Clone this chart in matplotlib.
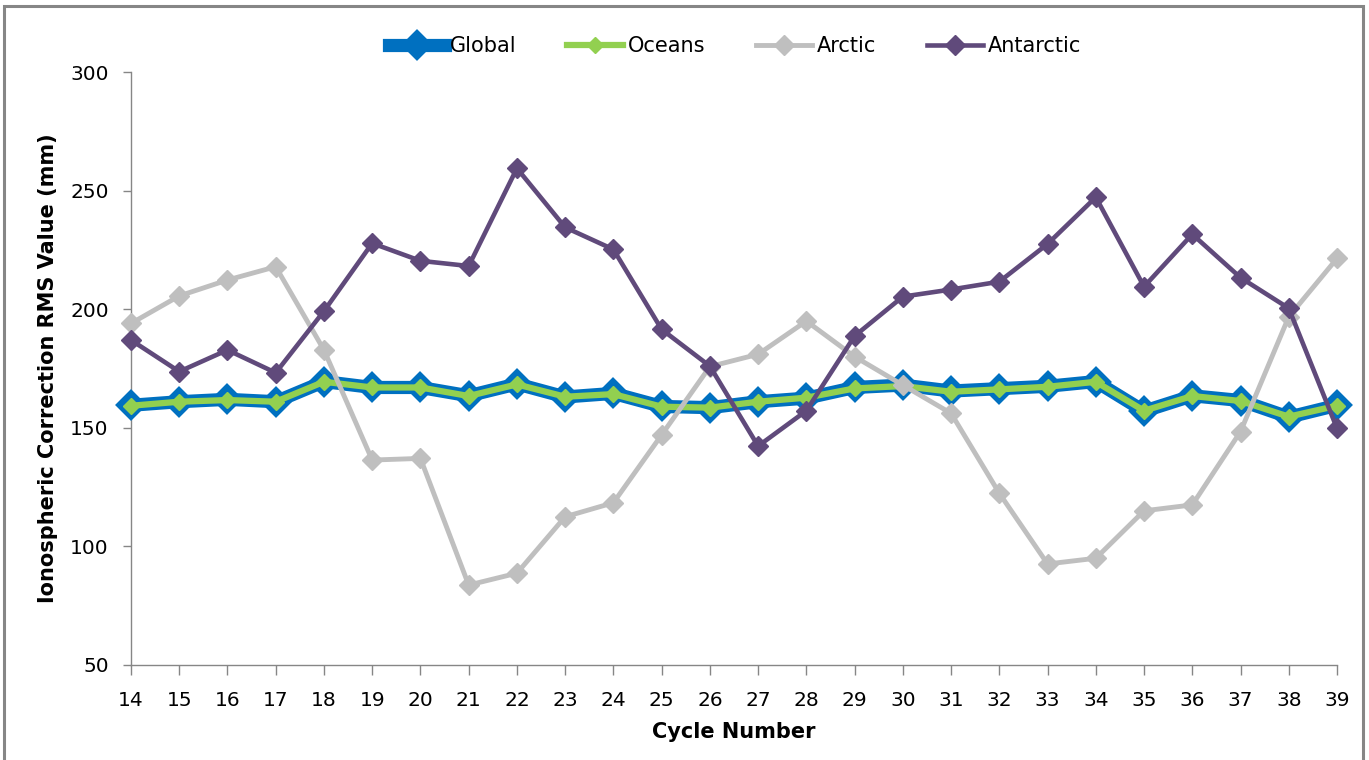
import matplotlib
matplotlib.use("Agg")
import matplotlib.pyplot as plt
from matplotlib.patches import Rectangle

# Cycle numbers and RMS values (mm) of the ionospheric correction
cycles = list(range(14, 40))

global_rms = [159.5, 161.0, 162.0, 161.0, 169.5, 167.0, 167.0, 163.5, 168.5,
              163.0, 164.5, 159.0, 158.5, 161.0, 162.5, 167.0, 168.0, 165.5,
              166.5, 167.5, 169.5, 157.0, 163.5, 161.5, 154.5, 159.5]
oceans_rms = [159.3, 161.0, 161.7, 161.0, 169.4, 167.0, 167.0, 163.4, 168.3,
              163.1, 164.2, 158.9, 158.5, 161.0, 162.7, 166.6, 167.6, 165.2,
              166.2, 167.3, 169.4, 157.2, 163.4, 161.3, 154.7, 159.3]
arctic_rms = [194.0, 205.6, 212.3, 217.9, 182.8, 136.4, 137.1, 83.7, 88.7,
              112.5, 118.4, 147.0, 175.8, 181.0, 195.0, 180.0, 168.0, 156.1,
              122.4, 92.6, 95.0, 115.0, 117.5, 148.4, 196.8, 221.4]
antarctic_rms = [187.0, 173.7, 182.8, 173.2, 199.2, 227.8, 220.4, 218.2, 259.4,
                 234.5, 225.2, 191.5, 176.0, 142.3, 157.2, 188.7, 205.3, 208.3,
                 211.6, 227.5, 247.2, 209.5, 231.6, 213.3, 200.4, 149.8]

y_ticks = [50, 100, 150, 200, 250, 300]

plt.rcParams["font.family"] = ["DejaVu Sans"]

fig = plt.figure(figsize=(13.69, 7.60), dpi=100)
ax = fig.add_axes([131 / 1369, 1 - 665 / 760, (1337 - 131) / 1369, (665 - 72) / 760])

ax.plot(cycles, global_rms, color="#0070C0", lw=9.5, marker="D", ms=13,
        mec="#0070C0", mfc="#0070C0", mew=3, label="Global", zorder=3,
        solid_joinstyle="round", clip_on=False)
ax.plot(cycles, oceans_rms, color="#92D050", lw=4.5, marker="D", ms=8,
        mec="#92D050", mfc="#92D050", label="Oceans", zorder=4, clip_on=False)
ax.plot(cycles, arctic_rms, color="#BFBFBF", lw=3.5, marker="D", ms=10.5,
        mec="#BFBFBF", mfc="#BFBFBF", label="Arctic", zorder=5, clip_on=False)
ax.plot(cycles, antarctic_rms, color="#604A7B", lw=3.3, marker="D", ms=10.5,
        mec="#604A7B", mfc="#604A7B", label="Antarctic", zorder=6, clip_on=False)

ax.set_xlim(14, 39)
ax.set_ylim(50, 300)
ax.set_xticks(cycles)
ax.set_xticklabels([str(c) for c in cycles])
ax.set_yticks(y_ticks)

for side in ("top", "right"):
    ax.spines[side].set_visible(False)
for side in ("left", "bottom"):
    ax.spines[side].set_color("#868686")
    ax.spines[side].set_linewidth(1.0)

ax.tick_params(axis="x", direction="out", length=7, width=1, color="#868686",
               pad=12, labelsize=14.5)
ax.tick_params(axis="y", direction="out", length=6, width=1, color="#868686",
               pad=10, labelsize=14.5)

ax.set_xlabel("Cycle Number", fontsize=15, fontweight="bold", labelpad=8)
ax.set_ylabel("Ionospheric Correction RMS Value (mm)", fontsize=15,
              fontweight="bold", labelpad=9)

fig.legend(loc="center", bbox_to_anchor=(0.537, 0.939), ncol=4, frameon=False,
           fontsize=15, handlelength=2.7, handletextpad=0.25, columnspacing=2.4)

# Outer chart frame
fig.patches.append(Rectangle((4 / 1369, -0.01), (1363 - 4) / 1369, 1 - 6 / 760 + 0.01,
                             transform=fig.transFigure, fill=False,
                             edgecolor="#868686", linewidth=2.2, zorder=0))

fig.savefig("out.png", dpi=100)
